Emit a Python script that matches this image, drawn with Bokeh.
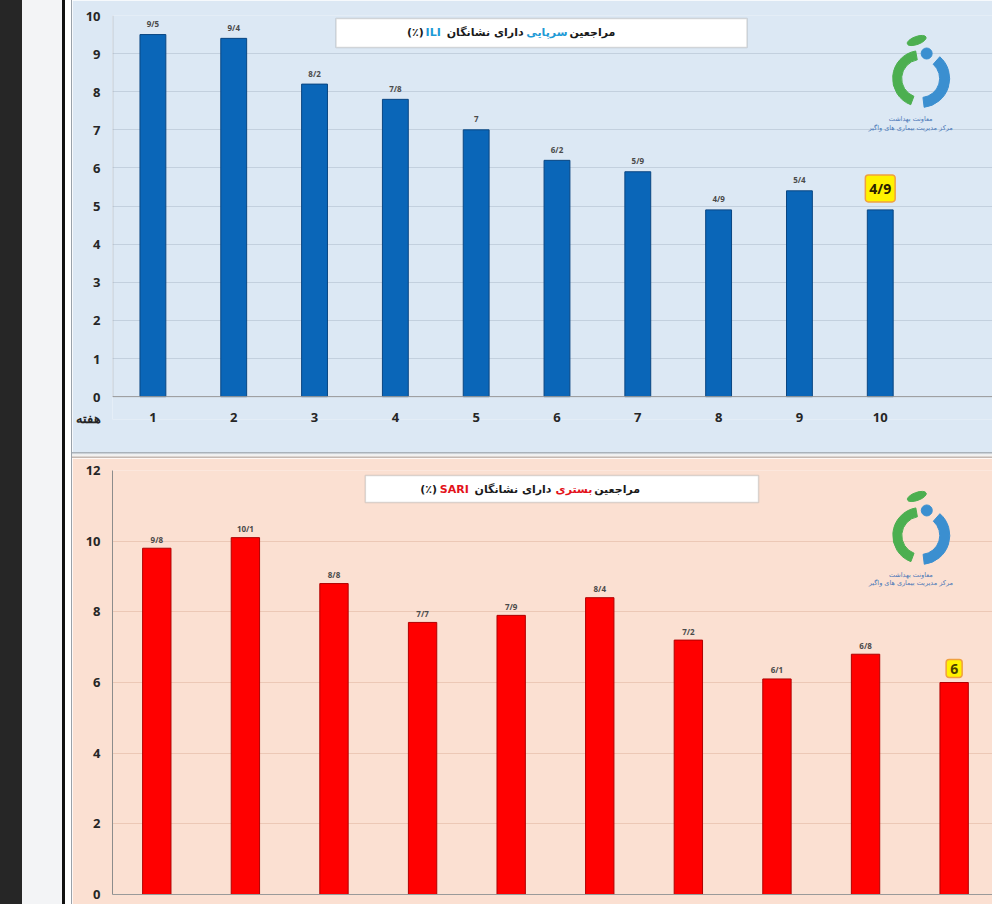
from bokeh.plotting import figure
from bokeh.models import Div, BoxAnnotation, Label, Span, FixedTicker
from bokeh.layouts import row, column
from bokeh.embed import file_html
from bokeh.resources import INLINE
from bokeh.core.properties import value

# ---------------- data ----------------
weeks = [1, 2, 3, 4, 5, 6, 7, 8, 9, 10]
week_labels = ["1", "2", "3", "4", "5", "6", "7", "8", "9", "10"]
ili_values = [9.5, 9.4, 8.2, 7.8, 7.0, 6.2, 5.9, 4.9, 5.4, 4.9]
ili_labels = ["9/5", "9/4", "8/2", "7/8", "7", "6/2", "5/9", "4/9", "5/4", "4/9"]
sari_values = [9.8, 10.1, 8.8, 7.7, 7.9, 8.4, 7.2, 6.1, 6.8, 6.0]
sari_labels = ["9/8", "10/1", "8/8", "7/7", "7/9", "8/4", "7/2", "6/1", "6/8", "6"]
ili_ticks = [0, 1, 2, 3, 4, 5, 6, 7, 8, 9, 10]
sari_ticks = [0, 2, 4, 6, 8, 10, 12]
week_word = "هفته"
# title pieces, reading order (right to left)
ili_title = [("مراجعین", "#1a1a1a"), ("سرپایی", "#1e9ad6"),
             ("دارای نشانگان", "#1a1a1a"), ("ILI", "#1e9ad6"), ("(٪)", "#1a1a1a")]
sari_title = [("مراجعین", "#1a1a1a"), ("بستری", "#e3121b"),
              ("دارای نشانگان", "#1a1a1a"), ("SARI", "#e3121b"), ("(٪)", "#1a1a1a")]
logo_lines = ["معاونت بهداشت", "مرکز مدیریت بیماری های واگیر"]

NUM_FONT = "Open Sans"
FA_FONT = "DejaVu Sans"
# approximate rendered widths (px) of the title pieces at 11px bold
PIECE_W = {"مراجعین": 44, "سرپایی": 40, "بستری": 37, "دارای نشانگان": 79,
           "ILI": 13, "SARI": 28, "(٪)": 17}


def style_axes(p, yticks):
    p.yaxis.ticker = yticks
    p.yaxis.axis_line_color = "#8c8c8c"
    p.yaxis.major_tick_line_color = None
    p.yaxis.minor_tick_line_color = None
    p.yaxis.major_tick_out = 0
    p.yaxis.major_label_text_font = NUM_FONT
    p.yaxis.major_label_text_font_style = "bold"
    p.yaxis.major_label_text_font_size = "13px"
    p.yaxis.major_label_text_color = "#262626"
    p.yaxis.major_label_standoff = 12
    p.xaxis.axis_line_color = "#9a9a9a"
    p.xaxis.major_tick_line_color = None
    p.xaxis.minor_tick_line_color = None
    p.xaxis.major_tick_out = 0
    p.xaxis.major_label_text_font = NUM_FONT
    p.xaxis.major_label_text_font_style = "bold"
    p.xaxis.major_label_text_font_size = "13px"
    p.xaxis.major_label_text_color = "#262626"
    p.xgrid.grid_line_color = None
    p.outline_line_color = None


def add_title(p, pieces, box, y, right_px, xd, gap=4):
    left, right, top, bottom = box
    p.add_layout(BoxAnnotation(left=left, right=right, top=top, bottom=bottom,
                               fill_color="white", fill_alpha=1.0,
                               line_color="#8a8a8a", line_width=1.5))
    xr = right_px
    for txt, col in pieces:
        p.add_layout(Label(x=xd(xr), y=y, text=txt, text_align="right",
                           text_baseline="middle", text_font=FA_FONT,
                           text_font_style="bold", text_font_size="11px",
                           text_color=col))
        xr -= PIECE_W[txt] + gap


def add_logo(p, cx, cy, leaf, dot, text_ys, text_x):
    p.annular_wedge(x=cx, y=cy, inner_radius=19, outer_radius=28,
                    inner_radius_units="screen", outer_radius_units="screen",
                    start_angle=1.75, end_angle=4.35, color="#4caf50")
    p.annular_wedge(x=cx, y=cy, inner_radius=19, outer_radius=29,
                    inner_radius_units="screen", outer_radius_units="screen",
                    start_angle=-1.45, end_angle=0.85, color="#3b8fd0")
    p.scatter(x=dot[0], y=dot[1], size=11, color="#3b8fd0")
    p.ellipse(x=leaf[0], y=leaf[1], width=20, height=8, angle=0.35,
              width_units="screen", height_units="screen", color="#4caf50")
    for line, ty in zip(logo_lines, text_ys):
        p.add_layout(Label(x=text_x, y=ty, text=line, text_align="center",
                           text_baseline="middle", text_font=FA_FONT,
                           text_font_size="6.5px", text_color="#4a78b8"))


# ---------------- top panel (ILI) ----------------
PX1 = 38.1               # pixels per unit on the ILI value axis
WEEK_POS = -21 / PX1     # the week caption sits 21px under the zero line
p1 = figure(width=920, height=452, x_range=(0.5, 11.389), y_range=(-0.6, 10),
            output_backend="svg", toolbar_location=None,
            min_border_left=38, min_border_right=0, min_border_top=15,
            min_border_bottom=33)
p1.background_fill_color = "#dce8f4"
p1.border_fill_color = "#dce8f4"
style_axes(p1, ili_ticks)
p1.yaxis.ticker = FixedTicker(ticks=[WEEK_POS] + ili_ticks)
p1.yaxis.major_label_overrides = {WEEK_POS: week_word}
p1.yaxis.axis_line_color = None
p1.xaxis.ticker = weeks
p1.xaxis.major_label_overrides = {w: l for w, l in zip(weeks, week_labels)}
p1.xaxis.axis_line_color = None
p1.xaxis.major_label_standoff = -7
p1.ygrid.ticker = FixedTicker(ticks=ili_ticks)
p1.ygrid.grid_line_color = "#c3d0de"
p1.add_layout(Span(location=0, dimension="width", line_color="#9a9a9a",
                   line_width=1))
p1.add_layout(BoxAnnotation(left=0.5, right=0.5, bottom=0, top=10,
                            fill_alpha=0, line_color="#8c8c8c", line_width=2))

xd1 = lambda px: 1 + (px - 150.5) / 81.0
yd1 = lambda py: (396 - py) / PX1

p1.vbar(x=weeks, top=ili_values, width=0.32, fill_color="#0a66b8",
        line_color="#0a4682", line_width=1)
p1.text(x=weeks[:-1], y=ili_values[:-1], text=ili_labels[:-1],
        text_align="center", text_baseline="middle", y_offset=-11,
        text_font=value(NUM_FONT), text_font_style="bold",
        text_font_size="8px", text_color="#4a4a4a")
p1.text(x=weeks[-1:], y=ili_values[-1:], text=ili_labels[-1:],
        text_align="center", text_baseline="bottom", y_offset=-8,
        text_font=value(NUM_FONT), text_font_style="bold",
        text_font_size="14px", text_color="#2a2000",
        background_fill_color="#fff200", border_line_color="#f0a040",
        border_line_width=1.5, padding=4, border_radius=3)
add_title(p1, ili_title, (xd1(334), xd1(746), yd1(18), yd1(47)), yd1(32),
          614, xd1)
add_logo(p1, xd1(920), yd1(78), (xd1(916), yd1(40)), (xd1(926), yd1(53)),
         [yd1(118), yd1(127)], xd1(910))

# ---------------- bottom panel (SARI) ----------------
p2 = figure(width=920, height=446, x_range=(0.5, 10.433), y_range=(0, 12),
            output_backend="svg", toolbar_location=None,
            min_border_left=36, min_border_right=0, min_border_top=12,
            min_border_bottom=10)
p2.background_fill_color = "#fbe0d2"
p2.border_fill_color = "#fbe0d2"
style_axes(p2, sari_ticks)
p2.xaxis.ticker = []
p2.ygrid.grid_line_color = "#ecc8b6"

xd2 = lambda px: 1 + (px - 152.5) / 89.0
yd2 = lambda py: (894 - py) / 35.33

p2.vbar(x=weeks, top=sari_values, width=0.32, fill_color="#ff0000",
        line_color="#b00000", line_width=1)
p2.text(x=weeks[:-1], y=sari_values[:-1], text=sari_labels[:-1],
        text_align="center", text_baseline="middle", y_offset=-9,
        text_font=value(NUM_FONT), text_font_style="bold",
        text_font_size="8px", text_color="#4a4a4a")
p2.text(x=weeks[-1:], y=sari_values[-1:], text=sari_labels[-1:],
        text_align="center", text_baseline="bottom", y_offset=-5,
        text_font=value(NUM_FONT), text_font_style="bold",
        text_font_size="14px", text_color="#4a4000",
        background_fill_color="#fff200", border_line_color="#f0a040",
        border_line_width=1.5, padding=4, border_radius=3)
add_title(p2, sari_title, (xd2(362), xd2(757), yd2(475), yd2(502)), yd2(489),
          638, xd2)
add_logo(p2, xd2(920), yd2(535), (xd2(916), yd2(496)), (xd2(926), yd2(510)),
         [yd2(575), yd2(583)], xd2(910))

# ---------------- page frame ----------------
H = 904
strips = [
    Div(text="", width=22, height=H, margin=0, styles={"background-color": "#262626"}),
    Div(text="", width=40, height=H, margin=0, styles={"background-color": "#f3f4f6"}),
    Div(text="", width=3, height=H, margin=0, styles={"background-color": "#111111"}),
    Div(text="", width=6, height=H, margin=0, styles={"background-color": "#ffffff"}),
    Div(text="", width=1, height=H, margin=0, styles={"background-color": "#9aa2aa"}),
]
gap = Div(text="", width=920, height=6, margin=0,
          styles={"background": "linear-gradient(#98a2ac, #ffffff 50%, #b8aaa2)"})

layout = row(*strips, column(p1, gap, p2, spacing=0), spacing=0)

open("out.html", "w").write(file_html(layout, INLINE))
